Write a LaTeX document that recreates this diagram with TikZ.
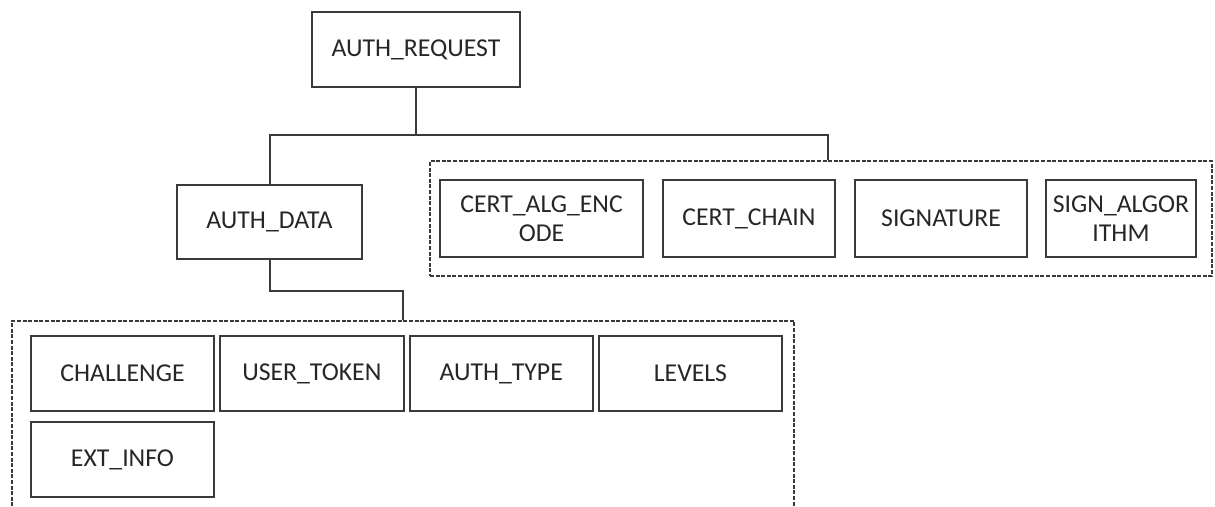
\documentclass[tikz,border=0pt]{standalone}
\usepackage{fontspec}
\setmainfont{Carlito}
\usetikzlibrary{positioning,fit}

\definecolor{inkgray}{HTML}{3A3A3A}

\begin{document}
\begin{tikzpicture}[
  x=0.75pt, y=-0.75pt,
  node distance=6.75pt and 3pt,
  field/.style={draw=inkgray, line width=1.5pt, inner sep=0pt, align=center,
    minimum width=137.5pt, minimum height=56.25pt,
    font=\fontsize{19.3}{22}\selectfont, text=black!85},
  group/.style={draw=inkgray, line width=1pt, dash pattern=on 3pt off 1.2pt, inner sep=0pt},
  link/.style={draw=inkgray, line width=1.5pt}
]
\useasboundingbox (0,0) rectangle (1215,507);

% request and its two parts
\node[field, minimum width=156pt] (authreq) at (416,49.5) {AUTH\_REQUEST};
\node[field, minimum width=138.75pt, minimum height=55.5pt] (authdata) at (269.5,222) {AUTH\_DATA};

% signature part
\node[field, minimum width=152.25pt, minimum height=57.75pt] (certalg) at (541.5,218.5) {CERT\_ALG\_ENC\\ODE};
\node[field, minimum width=129pt, minimum height=57.75pt, right=13.5pt of certalg] (certchain) {CERT\_CHAIN};
\node[field, minimum width=129pt, minimum height=57.75pt, right=13.5pt of certchain] (signature) {SIGNATURE};
\node[field, minimum width=113pt, minimum height=57.75pt, right=12.5pt of signature] (signalg) {SIGN\_ALGOR\\ITHM};
\node[group, fit={(430,161) (1212,276)}] (sigset) {};

% data fields
\node[field] (challenge) at (122.5,373.5) {CHALLENGE};
\node[field, right=of challenge] (usertoken) {USER\_TOKEN};
\node[field, right=of usertoken] (authtype) {AUTH\_TYPE};
\node[field, right=of authtype] (levels) {LEVELS};
\node[field, below=of challenge] (extinfo) {EXT\_INFO};
\node[group, fit={(12,321) (794,530)}] (fieldset) {};

% tree lines
\coordinate (bus) at (416,135);
\draw[link] (authreq) -- (bus);
\draw[link] (authdata.north) |- (bus) -| ([xshift=5.25pt]sigset.north);
\draw[link] (authdata.south) -- ++(0,31) -| (fieldset.north);
\end{tikzpicture}
\end{document}
